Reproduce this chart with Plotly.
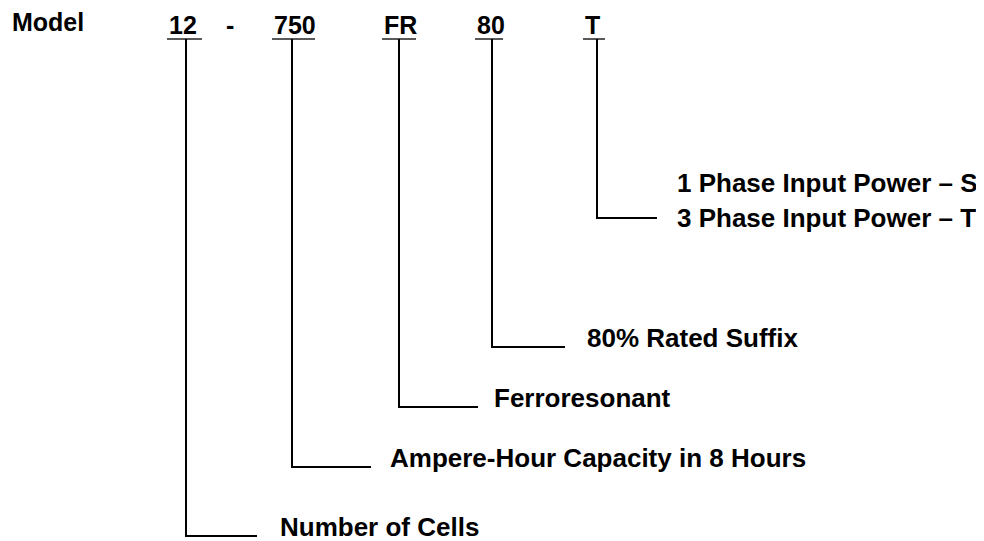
import plotly.graph_objects as go

# ---- data (text content of the diagram) ----
prefix_label = "Model"
separator = "-"
codes = ["12", "750", "FR", "80", "T"]
descriptions = [
    ["Number of Cells"],
    ["Ampere-Hour Capacity in 8 Hours"],
    ["Ferroresonant"],
    ["80% Rated Suffix"],
    ["1 Phase Input Power \u2013 S", "3 Phase Input Power \u2013 T"],
]

# ---- layout geometry (page pixel space) ----
W, H = 984, 541
BODY = 8  # default browser body margin; the axes are mapped so data units == page pixels
code_left = [167, 272, 382, 475, 583]
code_underline = [(167, 202), (272, 315), (382, 416), (475, 503), (583, 605)]
stem_x = [186, 292, 399, 492, 597]
stem_bottom = [536, 467, 407, 347, 218]
branch_end = [257, 371, 478, 565, 657]
label_left = [278, 388, 492, 585, 675]
underline_y = 39
code_y = 25
FONT_TOP = dict(family="Liberation Sans, Arial, sans-serif", size=25, color="black", weight="bold")
FONT_LBL = dict(family="Liberation Sans, Arial, sans-serif", size=26, color="black", weight="bold")

fig = go.Figure()

for i, code in enumerate(codes):
    x0, x1 = code_underline[i]
    fig.add_trace(go.Scatter(x=[x0, x1], y=[underline_y, underline_y], mode="lines",
                             line=dict(color="#222222", width=1.5), hoverinfo="skip", showlegend=False))
    fig.add_trace(go.Scatter(x=[stem_x[i], stem_x[i], branch_end[i]],
                             y=[underline_y, stem_bottom[i], stem_bottom[i]], mode="lines",
                             line=dict(color="black", width=2), hoverinfo="skip", showlegend=False))
    fig.add_annotation(x=code_left[i], y=code_y, text=code, showarrow=False,
                       xanchor="left", yanchor="middle", font=FONT_TOP)
    lines = descriptions[i]
    if len(lines) == 1:
        fig.add_annotation(x=label_left[i], y=stem_bottom[i] - 9, text=lines[0], showarrow=False,
                           xanchor="left", yanchor="middle", font=FONT_LBL)
    else:
        ys = [stem_bottom[i] - 35, stem_bottom[i]]
        for t, yy in zip(lines, ys):
            fig.add_annotation(x=label_left[i], y=yy, text=t, showarrow=False,
                               xanchor="left", yanchor="middle", font=FONT_LBL)

fig.add_annotation(x=10, y=22, text=prefix_label, showarrow=False,
                   xanchor="left", yanchor="middle", font=FONT_TOP)
fig.add_annotation(x=230, y=code_y, text=separator, showarrow=False,
                   xanchor="center", yanchor="middle", font=FONT_TOP)

fig.update_layout(
    width=W - BODY, height=H - BODY,
    margin=dict(l=0, r=0, t=0, b=0),
    paper_bgcolor="white", plot_bgcolor="white",
    xaxis=dict(range=[BODY, W], visible=False, fixedrange=True),
    yaxis=dict(range=[H, BODY], visible=False, fixedrange=True),
    showlegend=False,
)

fig.write_html("out.html")
